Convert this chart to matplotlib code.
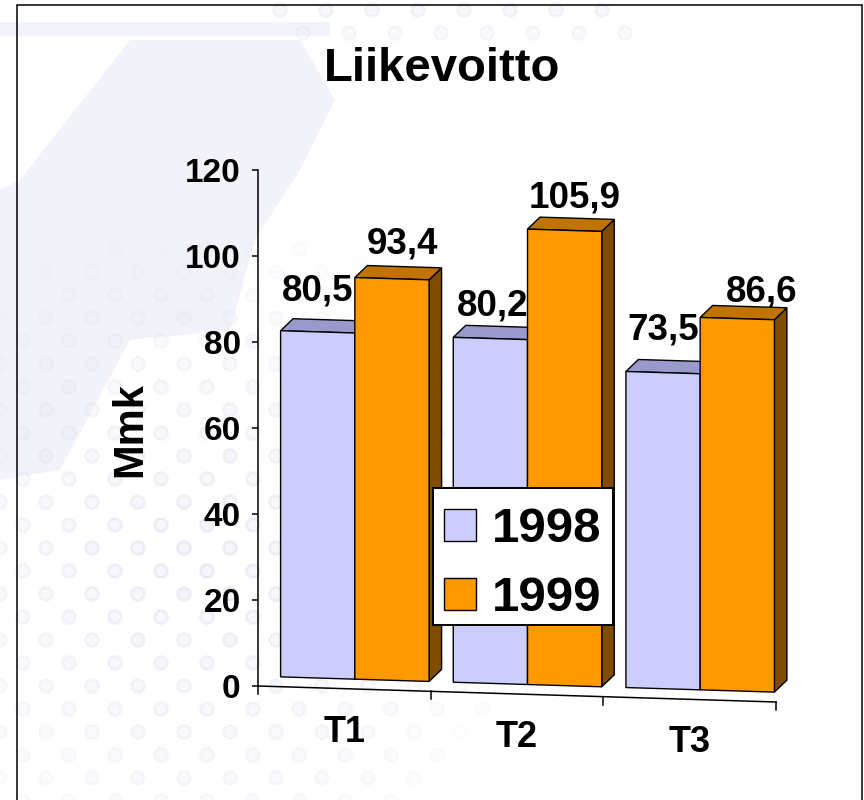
import numpy as np
import matplotlib
matplotlib.use("Agg")
import matplotlib.pyplot as plt
from matplotlib.transforms import Affine2D, ScaledTranslation, IdentityTransform
from matplotlib.patches import Polygon, Rectangle, Patch, Circle
from matplotlib.lines import Line2D

# ---------------- data ----------------
categories = ["T1", "T2", "T3"]
series_names = ["1998", "1999"]
values_1998 = [80.5, 80.2, 73.5]
values_1999 = [93.4, 105.9, 86.6]
y_ticks = [0, 20, 40, 60, 80, 100, 120]
title = "Liikevoitto"
ylabel = "Mmk"

# ---------------- style ----------------
plt.rcParams['font.family'] = ['Liberation Sans', 'DejaVu Sans']
plt.rcParams['font.weight'] = 'bold'
front_colors = ["#CCCCFF", "#FF9900"]
top_colors = ["#9999CC", "#C07300"]
side_colors = ["#66668C", "#7F4C00"]
edge = "black"
lw = 1.0

W, H = 864, 800
fig = plt.figure(figsize=(W / 100, H / 100), dpi=100)
fig.patch.set_facecolor("white")

# faint background decoration (slide template)
bg = fig.add_axes([0, 0, 1, 1], zorder=-10)
bg.set_xlim(0, W); bg.set_ylim(H, 0); bg.axis("off")
bg.add_patch(Polygon([[0, 22], [330, 22], [330, 36], [0, 36]],
                     closed=True, facecolor="#F3F3FB", edgecolor="none"))
bg.add_patch(Polygon([[130, 40], [300, 40], [335, 100], [300, 170], [255, 240], [230, 330],
                      [130, 340], [60, 470], [0, 480], [0, 190], [20, 180]],
                     closed=True, facecolor="#F0F0FA", edgecolor="none", alpha=0.85))
gx, gy = np.meshgrid(np.arange(0, 560, 46.0), np.arange(180, 820, 23.0))
gx = gx + (np.round((gy - 180) / 23) % 2) * 23
for px, py in zip(gx.ravel(), gy.ravel()):
    d = np.hypot((px - 200) / 330, (py - 560) / 330)
    if d < 1.0:
        a = 0.35 * (1 - d) + 0.05
        bg.add_patch(Circle((px, py), 6.5, facecolor="#E6E6F4", edgecolor="#D4D4EC",
                            lw=2.0, alpha=a))
for px in np.arange(280, 620, 46.0):
    bg.add_patch(Circle((px, 10), 6.5, facecolor="#E6E6F4", edgecolor="#D4D4EC", lw=2.0, alpha=0.25))
    bg.add_patch(Circle((px + 23, 33), 6.5, facecolor="#E6E6F4", edgecolor="#D4D4EC", lw=2.0, alpha=0.18))

# main axes (front plane of the 3D floor)
ax_l, ax_r, ax_b, ax_t = 258, 776, 686, 170
ax = fig.add_axes([ax_l / W, (H - ax_b) / H, (ax_r - ax_l) / W, (ax_b - ax_t) / H])
ax.set_xlim(0, 3)
ax.set_ylim(0, 120)
ax.patch.set_alpha(0)
for s in ["top", "right", "bottom"]:
    ax.spines[s].set_visible(False)
ax.spines["left"].set_linewidth(1.1)
ax.set_yticks(y_ticks)
ax.set_yticklabels([str(v) for v in y_ticks])
ax.set_xticks([])
ax.tick_params(axis="y", direction="out", length=4.5, width=1.1, pad=8, labelsize=24)

# skewed (perspective-like) transform
x0, y0 = ax.transAxes.transform((0, 0))
slope = 16.0 / 518.0
skew = Affine2D().translate(-x0, -y0).skew(0, np.arctan(-slope)).translate(x0, y0)
T = ax.transData + skew
px_off = lambda dx, dy: ScaledTranslation(dx / 100.0, dy / 100.0, fig.dpi_scale_trans)
T_bar = T + px_off(10.5, 9.5)
T_back = T_bar + px_off(12.5, 12.0)

# category axis
ax.plot([0, 3], [0, 0], color="black", lw=1.1, transform=T, clip_on=False)
for k in range(len(categories) + 1):
    p = T.transform((k, 0))
    ax.add_line(Line2D([p[0], p[0]], [p[1], p[1] - 8], color="black",
                       lw=1.1, transform=IdentityTransform(), clip_on=False))
for i, c in enumerate(categories):
    ax.text(i + 0.5, 0, c, transform=T + px_off(0, -43.5), ha="center", va="center",
            fontsize=26, fontweight="bold", clip_on=False)

# bars
bw = 0.43
series = [values_1998, values_1999]
label_offsets = [[(0, 31), (2, 23), (0, 33)], [(10.5, 25), (10.5, 23), (24.5, 17)]]
z = 3
for i in range(len(categories)):
    for s, vals in enumerate(series):
        v = vals[i]
        xl = i + 0.5 - bw + s * bw
        xr = xl + bw
        fb = T_bar.transform([[xl, 0], [xr, 0], [xr, v], [xl, v]])
        bb = T_back.transform([[xl, 0], [xr, 0], [xr, v], [xl, v]])
        side = Polygon([fb[1], bb[1], bb[2], fb[2]], closed=True, facecolor=side_colors[s],
                       edgecolor=edge, lw=lw, transform=IdentityTransform(), clip_on=False, zorder=z)
        top = Polygon([fb[3], fb[2], bb[2], bb[3]], closed=True, facecolor=top_colors[s],
                      edgecolor=edge, lw=lw, transform=IdentityTransform(), clip_on=False, zorder=z)
        ax.add_patch(side); ax.add_patch(top)
        b = ax.bar([xl], [v], width=bw, align="edge", color=front_colors[s], edgecolor=edge,
                   lw=lw, zorder=z + 0.5)
        for patch in b.patches:
            patch.set_transform(T_bar)
            patch.set_clip_on(False)
        dx, dy = label_offsets[s][i]
        ax.text(xl + bw / 2, v, f"{v:.1f}".replace(".", ","), transform=T_bar + px_off(dx, dy),
                ha="center", va="baseline", fontsize=26.5, fontweight="bold", zorder=10, clip_on=False)
        z += 1

ax.set_xlim(0, 3)
ax.set_ylim(0, 120)

# legend: box drawn separately, entries placed without frame
leg_box = Rectangle((433 / W, (H - 625) / H), (613 - 433) / W, (625 - 488) / H,
                    facecolor="white", edgecolor="black", lw=1.4,
                    transform=fig.transFigure, zorder=19)
fig.add_artist(leg_box)
handles = [Patch(facecolor=front_colors[k], edgecolor="black", lw=1.0) for k in range(2)]
leg = fig.legend(handles, series_names, loc="upper left",
                 bbox_to_anchor=(433 / W, (H - 496.5) / H), borderaxespad=0,
                 prop={"size": 35.5, "weight": "bold"}, frameon=False,
                 handlelength=0.65, handleheight=0.63,
                 handletextpad=0.33, labelspacing=0.48, borderpad=0.22)
leg.set_zorder(20)

# titles
fig.text(442 / W, (H - 81) / H, title, ha="center", va="baseline", fontsize=34, fontweight="bold")
fig.text(130 / W, (H - 430) / H, ylabel, ha="center", va="center", rotation=90,
         fontsize=30, fontweight="bold")

# slide frame
fig.add_artist(Rectangle((17 / W, -0.02), (862 - 17) / W, (H - 5) / H + 0.02, fill=False,
                         edgecolor="black", lw=1.1, transform=fig.transFigure))

fig.savefig("out.png", dpi=100)
